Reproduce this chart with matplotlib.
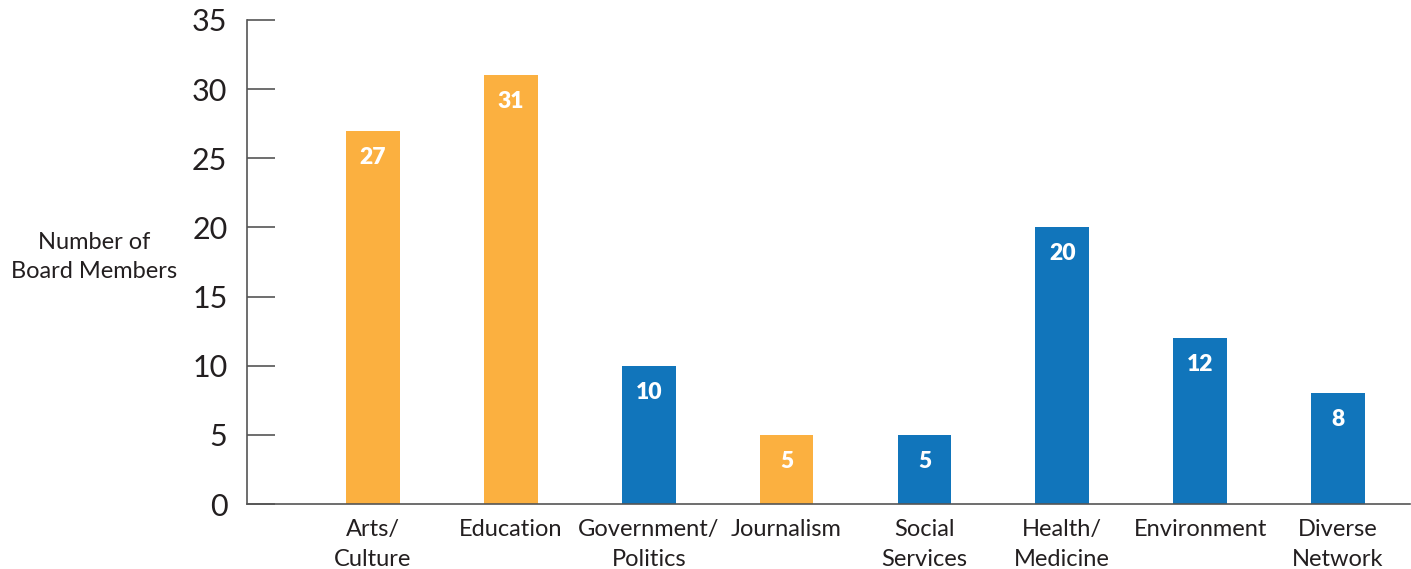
import matplotlib
matplotlib.use("Agg")
import matplotlib.pyplot as plt
from matplotlib import font_manager

categories = ["Arts/\nCulture", "Education", "Government/\nPolitics", "Journalism",
              "Social\nServices", "Health/\nMedicine", "Environment", "Diverse\nNetwork"]
values = [27, 31, 10, 5, 5, 20, 12, 8]
groups = ["orange", "orange", "blue", "orange", "blue", "blue", "blue", "blue"]
yticks = [0, 5, 10, 15, 20, 25, 30, 35]

palette = {"orange": "#FBB040", "blue": "#1175BB"}
font = "Lato"
names = {f.name for f in font_manager.fontManager.ttflist}
if font not in names:
    font = "DejaVu Sans"
plt.rcParams["font.family"] = [font, "DejaVu Sans"]
text_color = "#231F20"

fig = plt.figure(figsize=(14.11, 5.69), dpi=100)
ax = fig.add_axes([0.175, 0.1142, 0.824, 0.8507])

x = list(range(len(values)))
colors = [palette[g] for g in groups]
ax.bar(x, values, width=0.39, color=colors, zorder=2)

for xi, v in zip(x, values):
    ax.annotate(str(v), (xi, v), xytext=(0, -19), textcoords="offset points",
                ha="center", va="center", color="white", fontsize=16.5,
                fontweight="heavy", zorder=3)

ax.set_xlim(-0.915, 7.52)
ax.set_ylim(0, 35)
ax.set_yticks(yticks)
ax.set_yticklabels([str(t) for t in yticks], fontsize=22, color=text_color)
ax.set_xticks(x)
ax.set_xticklabels(categories, fontsize=17, color=text_color, linespacing=1.5)
ax.tick_params(axis="y", direction="in", length=20, width=1.2, color="#555555", pad=14)
ax.tick_params(axis="x", length=0, pad=11)
for side in ("top", "right"):
    ax.spines[side].set_visible(False)
for side in ("left", "bottom"):
    ax.spines[side].set_color("#555555")
    ax.spines[side].set_linewidth(1.2)

fig.text(0.067, 0.548, "Number of\nBoard Members", ha="center", va="center",
         fontsize=17, color=text_color, linespacing=1.45)

fig.savefig("out.png", dpi=100)
